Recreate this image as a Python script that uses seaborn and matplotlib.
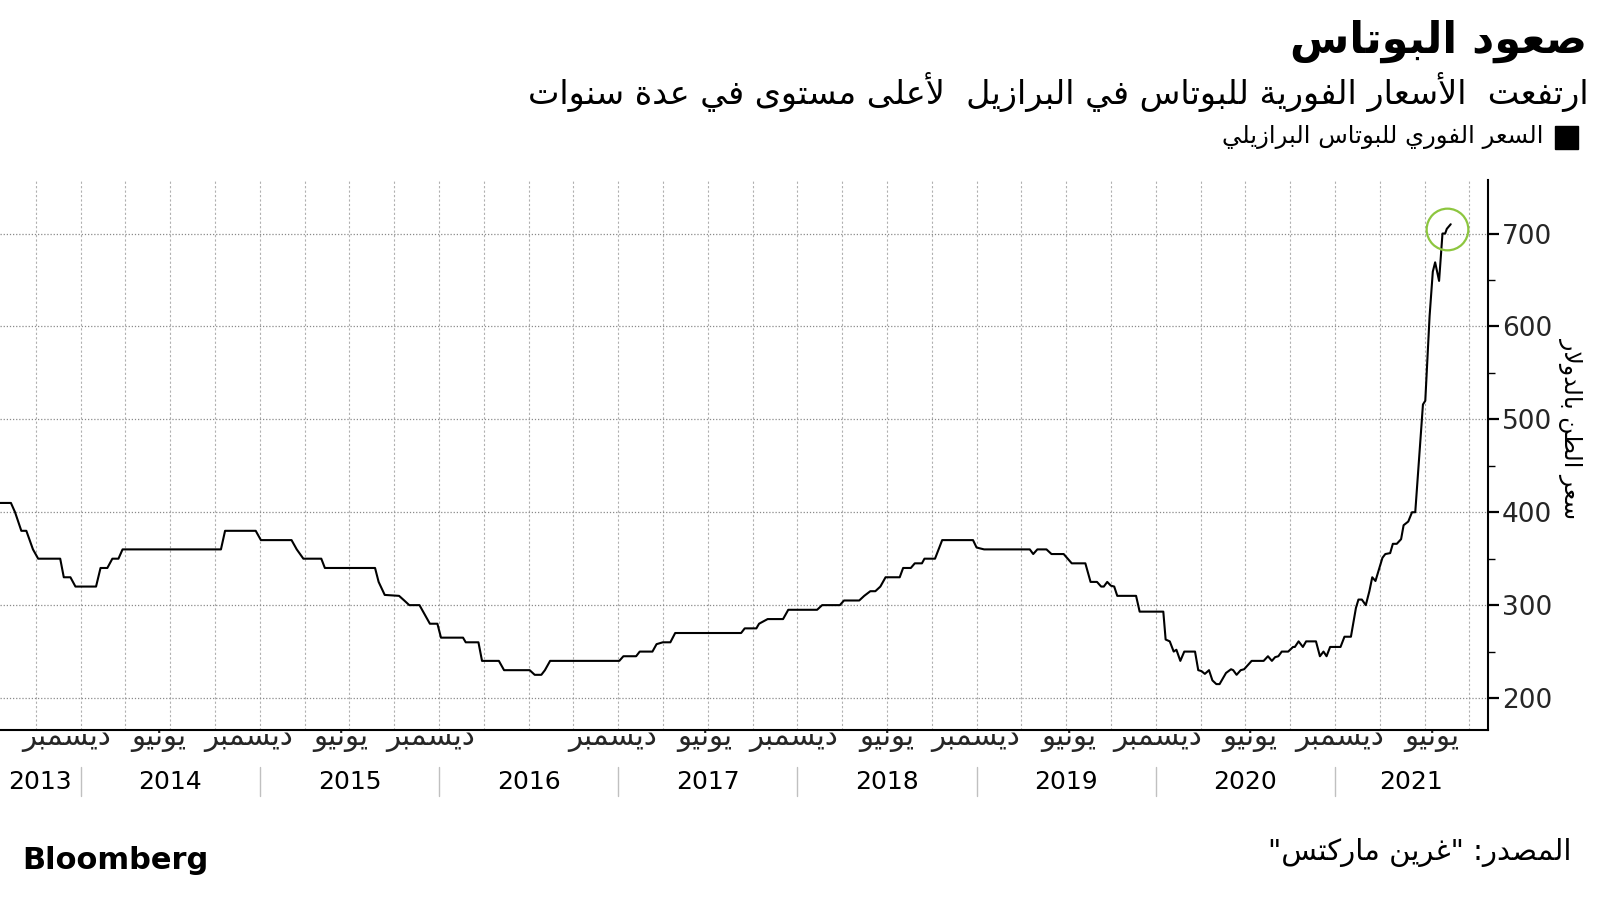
import matplotlib
matplotlib.use("Agg")
import matplotlib.pyplot as plt
import matplotlib.transforms as mtransforms
from matplotlib.patches import Rectangle
import pandas as pd
import seaborn as sns

# ---------------- data (decimal year, USD per tonne) ----------------
DATES = [
    2013.549, 2013.611, 2013.634, 2013.669, 2013.697, 2013.734, 2013.763, 2013.886, 2013.906, 2013.943,
    2013.971, 2014.086, 2014.111, 2014.149, 2014.177, 2014.211, 2014.234, 2014.783, 2014.806, 2014.977,
    2015.006, 2015.177, 2015.206, 2015.243, 2015.343, 2015.363, 2015.643, 2015.663, 2015.697, 2015.777,
    2015.806, 2015.834, 2015.891, 2015.920, 2015.949, 2015.991, 2016.011, 2016.134, 2016.149, 2016.220,
    2016.240, 2016.334, 2016.363, 2016.506, 2016.534, 2016.571, 2016.591, 2016.620, 2017.006, 2017.029,
    2017.100, 2017.120, 2017.191, 2017.214, 2017.249, 2017.291, 2017.318, 2017.686, 2017.706, 2017.771,
    2017.786, 2017.834, 2017.920, 2017.949, 2018.110, 2018.138, 2018.237, 2018.260, 2018.345, 2018.373,
    2018.407, 2018.435, 2018.463, 2018.492, 2018.571, 2018.590, 2018.633, 2018.655, 2018.695, 2018.709,
    2018.768, 2018.808, 2018.980, 2019.000, 2019.042, 2019.297, 2019.316, 2019.339, 2019.390, 2019.418,
    2019.486, 2019.531, 2019.607, 2019.636, 2019.672, 2019.695, 2019.710, 2019.729, 2019.749, 2019.768,
    2019.785, 2019.890, 2019.910, 2020.042, 2020.055, 2020.078, 2020.100, 2020.115, 2020.137, 2020.159,
    2020.219, 2020.237, 2020.255, 2020.274, 2020.297, 2020.316, 2020.338, 2020.356, 2020.392, 2020.420,
    2020.432, 2020.451, 2020.474, 2020.493, 2020.535, 2020.602, 2020.626, 2020.648, 2020.666, 2020.684,
    2020.703, 2020.739, 2020.766, 2020.776, 2020.797, 2020.821, 2020.839, 2020.894, 2020.916, 2020.936,
    2020.953, 2020.973, 2021.031, 2021.053, 2021.089, 2021.117, 2021.131, 2021.150, 2021.172, 2021.192,
    2021.208, 2021.226, 2021.265, 2021.281, 2021.308, 2021.323, 2021.345, 2021.369, 2021.383, 2021.409,
    2021.430, 2021.448, 2021.491, 2021.504, 2021.528, 2021.546, 2021.559, 2021.581, 2021.600, 2021.615,
    2021.624, 2021.646,
]
PRICES = [
    410, 410, 400, 380, 380, 360, 350, 350, 330, 330,
    320, 320, 340, 340, 350, 350, 360, 360, 380, 380,
    370, 370, 360, 350, 350, 340, 340, 325, 311, 310,
    305, 300, 300, 290, 280, 280, 265, 265, 260, 260,
    240, 240, 230, 230, 225, 225, 230, 240, 240, 245,
    245, 250, 250, 258, 260, 260, 270, 270, 275, 275,
    280, 285, 285, 295, 295, 300, 300, 305, 305, 310,
    315, 315, 320, 330, 330, 340, 340, 345, 345, 350,
    350, 370, 370, 362, 360, 360, 355, 360, 360, 355,
    355, 345, 345, 325, 325, 320, 320, 325, 321, 320,
    310, 310, 293, 293, 263, 261, 250, 252, 240, 250,
    250, 230, 229, 226, 230, 219, 215, 215, 227, 231,
    230, 225, 230, 231, 240, 240, 245, 240, 244, 245,
    250, 250, 255, 255, 261, 255, 261, 261, 245, 250,
    245, 255, 255, 266, 266, 297, 306, 306, 300, 315,
    330, 326, 351, 355, 356, 366, 366, 371, 386, 390,
    400, 400, 516, 520, 611, 659, 669, 649, 700, 700,
    705, 710,
]
HIGHLIGHT_T = 2021.624
HIGHLIGHT_P = 705

Y_TICKS = [200, 300, 400, 500, 600, 700]
Y_MINOR = [250, 350, 450, 550, 650]
YEARS = [2013, 2014, 2015, 2016, 2017, 2018, 2019, 2020, 2021]
# month tick labels (year, month) -- June 2016 is absent in the original
MONTH_TICKS = [(2013, 12), (2014, 6), (2014, 12), (2015, 6), (2015, 12), (2016, 12),
               (2017, 6), (2017, 12), (2018, 6), (2018, 12), (2019, 6), (2019, 12),
               (2020, 6), (2020, 12), (2021, 6)]
MONTH_NAMES = {6: "يونيو", 12: "ديسمبر"}

TITLE = "صعود البوتاس"
SUBTITLE = "ارتفعت  الأسعار الفورية للبوتاس في البرازيل  لأعلى مستوى في عدة سنوات"
LEGEND = "السعر الفوري للبوتاس البرازيلي"
YLABEL = "سعر الطن بالدولار"
SOURCE = "المصدر: \"غرين ماركتس\""

# ---------------- minimal Arabic shaping (contextual forms + RTL) ----------------
AR_FORMS = {
    '\u0621': ('\uFE80', None, None, None),
    '\u0622': ('\uFE81', '\uFE82', None, None),
    '\u0623': ('\uFE83', '\uFE84', None, None),
    '\u0624': ('\uFE85', '\uFE86', None, None),
    '\u0625': ('\uFE87', '\uFE88', None, None),
    '\u0626': ('\uFE89', '\uFE8A', '\uFE8B', '\uFE8C'),
    '\u0627': ('\uFE8D', '\uFE8E', None, None),
    '\u0628': ('\uFE8F', '\uFE90', '\uFE91', '\uFE92'),
    '\u0629': ('\uFE93', '\uFE94', None, None),
    '\u062A': ('\uFE95', '\uFE96', '\uFE97', '\uFE98'),
    '\u062B': ('\uFE99', '\uFE9A', '\uFE9B', '\uFE9C'),
    '\u062C': ('\uFE9D', '\uFE9E', '\uFE9F', '\uFEA0'),
    '\u062D': ('\uFEA1', '\uFEA2', '\uFEA3', '\uFEA4'),
    '\u062E': ('\uFEA5', '\uFEA6', '\uFEA7', '\uFEA8'),
    '\u062F': ('\uFEA9', '\uFEAA', None, None),
    '\u0630': ('\uFEAB', '\uFEAC', None, None),
    '\u0631': ('\uFEAD', '\uFEAE', None, None),
    '\u0632': ('\uFEAF', '\uFEB0', None, None),
    '\u0633': ('\uFEB1', '\uFEB2', '\uFEB3', '\uFEB4'),
    '\u0634': ('\uFEB5', '\uFEB6', '\uFEB7', '\uFEB8'),
    '\u0635': ('\uFEB9', '\uFEBA', '\uFEBB', '\uFEBC'),
    '\u0636': ('\uFEBD', '\uFEBE', '\uFEBF', '\uFEC0'),
    '\u0637': ('\uFEC1', '\uFEC2', '\uFEC3', '\uFEC4'),
    '\u0638': ('\uFEC5', '\uFEC6', '\uFEC7', '\uFEC8'),
    '\u0639': ('\uFEC9', '\uFECA', '\uFECB', '\uFECC'),
    '\u063A': ('\uFECD', '\uFECE', '\uFECF', '\uFED0'),
    '\u0641': ('\uFED1', '\uFED2', '\uFED3', '\uFED4'),
    '\u0642': ('\uFED5', '\uFED6', '\uFED7', '\uFED8'),
    '\u0643': ('\uFED9', '\uFEDA', '\uFEDB', '\uFEDC'),
    '\u0644': ('\uFEDD', '\uFEDE', '\uFEDF', '\uFEE0'),
    '\u0645': ('\uFEE1', '\uFEE2', '\uFEE3', '\uFEE4'),
    '\u0646': ('\uFEE5', '\uFEE6', '\uFEE7', '\uFEE8'),
    '\u0647': ('\uFEE9', '\uFEEA', '\uFEEB', '\uFEEC'),
    '\u0648': ('\uFEED', '\uFEEE', None, None),
    '\u0649': ('\uFEEF', '\uFEF0', None, None),
    '\u064A': ('\uFEF1', '\uFEF2', '\uFEF3', '\uFEF4'),
}
LAM_ALEF = {'\u0622': ('\uFEF5', '\uFEF6'), '\u0623': ('\uFEF7', '\uFEF8'),
            '\u0625': ('\uFEF9', '\uFEFA'), '\u0627': ('\uFEFB', '\uFEFC')}


def shape(text):
    units, i = [], 0
    while i < len(text):
        c = text[i]
        if c == '\u0644' and i + 1 < len(text) and text[i + 1] in LAM_ALEF:
            units.append(('LA', text[i + 1]))
            i += 2
        else:
            units.append(('C', c))
            i += 1

    def is_ar(u):
        return u[0] == 'LA' or u[1] in AR_FORMS

    def joins_next(u):
        if u[0] == 'LA':
            return False
        f = AR_FORMS.get(u[1])
        return f is not None and f[2] is not None

    out = []
    for k, u in enumerate(units):
        prev = units[k - 1] if k > 0 else None
        nxt = units[k + 1] if k + 1 < len(units) else None
        jp = prev is not None and joins_next(prev) and is_ar(u)
        if u[0] == 'LA':
            out.append(LAM_ALEF[u[1]][1 if jp else 0])
            continue
        f = AR_FORMS.get(u[1])
        if f is None:
            out.append(u[1])
            continue
        jn = nxt is not None and is_ar(nxt) and f[2] is not None
        if jp and jn:
            out.append(f[3])
        elif jp:
            out.append(f[1])
        elif jn:
            out.append(f[2])
        else:
            out.append(f[0])
    return ''.join(reversed(out))


# ---------------- plot ----------------
sns.set_theme(style="white")
plt.rcParams['font.family'] = ['DejaVu Sans']

fig = plt.figure(figsize=(16, 9), dpi=100)
ax = fig.add_axes([0.0, 0.1893, 0.93, 0.6111])

df = pd.DataFrame({"t": DATES, "p": PRICES})
sns.lineplot(data=df, x="t", y="p", ax=ax, color="black", lw=1.5,
             estimator=None, sort=False)
ax.plot([HIGHLIGHT_T], [HIGHLIGHT_P], marker="o", ms=30, mfc="none",
        mec="#8dc63f", mew=1.6, clip_on=False)

XMIN, XMAX = 2013.55, 2021.854
ax.set_xlim(XMIN, XMAX)
ax.set_ylim(166, 758)
ax.set_xlabel("")
ax.set_ylabel("")

for s in ["left", "top"]:
    ax.spines[s].set_visible(False)
for s in ["right", "bottom"]:
    ax.spines[s].set_color("black")
    ax.spines[s].set_linewidth(1.5)

# y axis on the right
ax.yaxis.tick_right()
ax.set_yticks(Y_TICKS)
ax.set_yticks(Y_MINOR, minor=True)
ax.set_yticklabels([str(v) for v in Y_TICKS])
ax.tick_params(axis="y", which="major", direction="out", length=8, width=1.6,
               color="black", labelsize=19, pad=2, right=True, left=False)
ax.tick_params(axis="y", which="minor", direction="out", length=5, width=1.0,
               color="black", right=True, left=False)
ax.yaxis.grid(True, which="major", linestyle=(0, (1, 1.5)), color="#8a8a8a", lw=0.9)

# x axis: month labels, quarterly grid
mpos = [y + (m - 1) / 12 + 0.02 + 0.015 * (y - 2014) for (y, m) in MONTH_TICKS]
ax.set_xticks(mpos)
ax.set_xticklabels([shape(MONTH_NAMES[m]) for (_, m) in MONTH_TICKS])
quarters = [y + q / 4 for y in range(2013, 2022) for q in range(4)]
quarters = [q for q in quarters if XMIN < q < XMAX]
ax.set_xticks(quarters, minor=True)
ax.tick_params(axis="x", which="both", length=0, labelsize=21, pad=-4)
ax.xaxis.grid(False, which="major")
ax.xaxis.grid(True, which="minor", linestyle=(0, (2, 2)), color="#b0b0b0", lw=0.8)

# year labels with separators
blend = mtransforms.blended_transform_factory(ax.transData, ax.transAxes)
for yr in YEARS:
    lo, hi = max(yr, XMIN), min(yr + 1, XMAX)
    ax.text((lo + hi) / 2, -0.095, str(yr), transform=blend, ha="center",
            va="center", fontsize=18, color="black")
    if yr > YEARS[0]:
        ax.plot([yr, yr], [-0.068, -0.121], transform=blend, color="#c0c0c0",
                lw=1.0, clip_on=False)

# y label
fig.text(0.982, 0.524, shape(YLABEL), rotation=270, ha="center", va="center",
         fontsize=17, color="black")

# titles
fig.text(0.992, 0.954, shape(TITLE), ha="right", va="center", fontsize=31,
         fontweight="bold", color="black")
fig.text(0.993, 0.898, shape(SUBTITLE), ha="right", va="center", fontsize=24,
         color="black")
fig.patches.append(Rectangle((1555 / 1600, 1 - 149 / 900), 23 / 1600, 23 / 900,
                             transform=fig.transFigure, color="black"))
fig.text(1544 / 1600, 1 - 137 / 900, shape(LEGEND), ha="right", va="center",
         fontsize=17.5, color="black")

# footer
fig.text(1572 / 1600, 0.053, shape(SOURCE), ha="right", va="center",
         fontsize=21, color="black")
fig.text(22 / 1600, 0.044, "Bloomberg", ha="left", va="center", fontsize=22,
         fontweight="bold", color="black")

fig.savefig("out.png", dpi=100)
